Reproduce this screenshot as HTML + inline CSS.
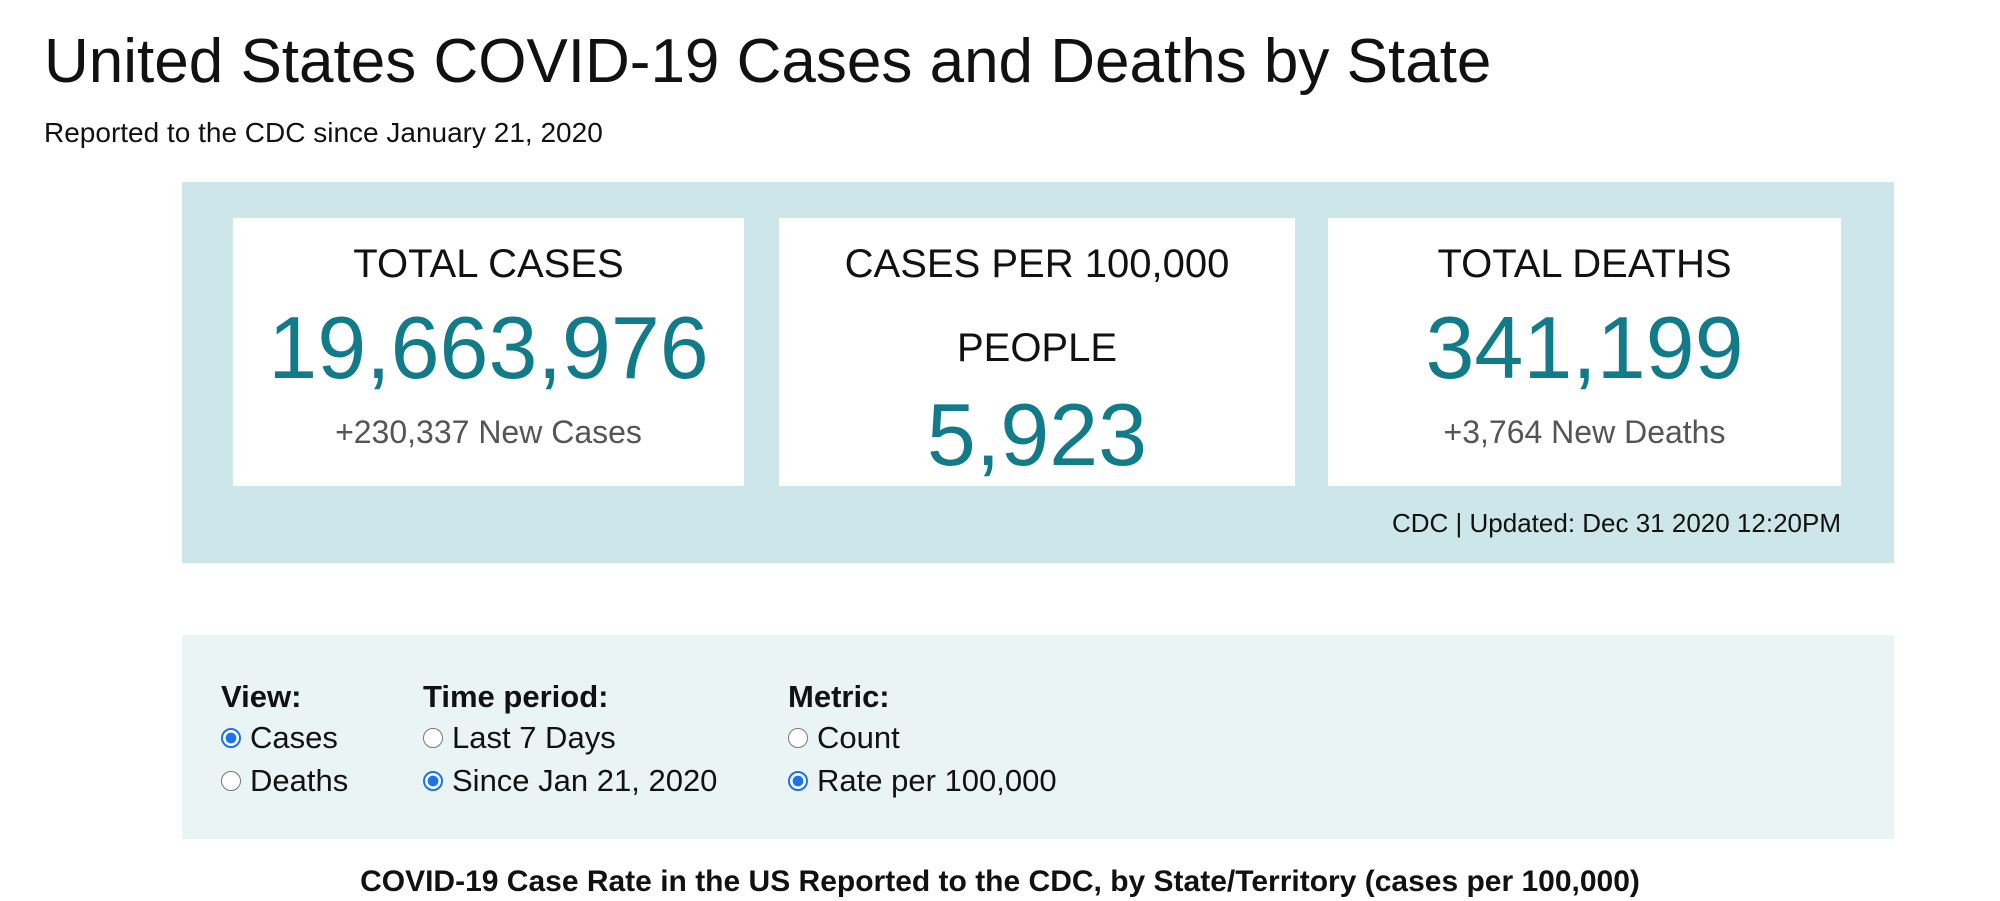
<!DOCTYPE html>
<html><head><meta charset="utf-8"><style>
html,body{margin:0;padding:0;background:#fff;width:2000px;height:901px;overflow:hidden;font-family:"Liberation Sans",sans-serif;color:#111}
.a{position:absolute;white-space:nowrap}
.panel{position:absolute;left:182px;top:182px;width:1712px;height:381px;background:#cce6ea}
.card{position:absolute;top:218px;height:268px;background:#fff;text-align:center}
.h{position:absolute;left:0;right:0;font-size:40px;color:#111}
.n{position:absolute;left:0;right:0;font-size:88px;color:#117b89}
.s{position:absolute;left:0;right:0;font-size:32px;color:#555}
.f{position:absolute;left:182px;top:635px;width:1712px;height:204px;background:#eaf4f5}
.lab{font-weight:bold;font-size:31px}
.r{font-size:31px;display:flex;align-items:center}
.rb{width:20px;height:20px;border-radius:50%;border:1.5px solid #777;background:#fff;margin-right:9px;box-sizing:border-box}
.on{border:2px solid #1a73e8;background:radial-gradient(circle,#1a73e8 45%,#fff 50%)}
</style></head><body>
<div class="a" style="left:44px;top:26px;font-size:62px;color:#111">United States COVID-19 Cases and Deaths by State</div>
<div class="a" style="left:44px;top:117px;font-size:28px">Reported to the CDC since January 21, 2020</div>
<div class="panel"></div>
<div class="card" style="left:233px;width:511px">
<div class="h" style="top:24px">TOTAL CASES</div>
<div class="n" style="top:79px">19,663,976</div>
<div class="s" style="top:196px">+230,337 New Cases</div></div>
<div class="card" style="left:779px;width:516px">
<div class="h" style="top:24px">CASES PER 100,000</div>
<div class="h" style="top:108px">PEOPLE</div>
<div class="n" style="top:166px">5,923</div></div>
<div class="card" style="left:1328px;width:513px">
<div class="h" style="top:24px">TOTAL DEATHS</div>
<div class="n" style="top:79px">341,199</div>
<div class="s" style="top:196px">+3,764 New Deaths</div></div>
<div class="a" style="right:159px;top:508px;font-size:26px">CDC | Updated: Dec 31 2020 12:20PM</div>
<div class="f"></div>
<div class="a lab" style="left:221px;top:679px">View:</div>
<div class="a r" style="left:221px;top:720px"><span class="rb on"></span>Cases</div>
<div class="a r" style="left:221px;top:763px"><span class="rb"></span>Deaths</div>
<div class="a lab" style="left:423px;top:679px">Time period:</div>
<div class="a r" style="left:423px;top:720px"><span class="rb"></span>Last 7 Days</div>
<div class="a r" style="left:423px;top:763px"><span class="rb on"></span>Since Jan 21, 2020</div>
<div class="a lab" style="left:788px;top:679px">Metric:</div>
<div class="a r" style="left:788px;top:720px"><span class="rb"></span>Count</div>
<div class="a r" style="left:788px;top:763px"><span class="rb on"></span>Rate per 100,000</div>
<div class="a" style="left:0;width:2000px;text-align:center;top:865px;font-size:30px;font-weight:bold">COVID-19 Case Rate in the US Reported to the CDC, by State/Territory (cases per 100,000)</div>
</body></html>
